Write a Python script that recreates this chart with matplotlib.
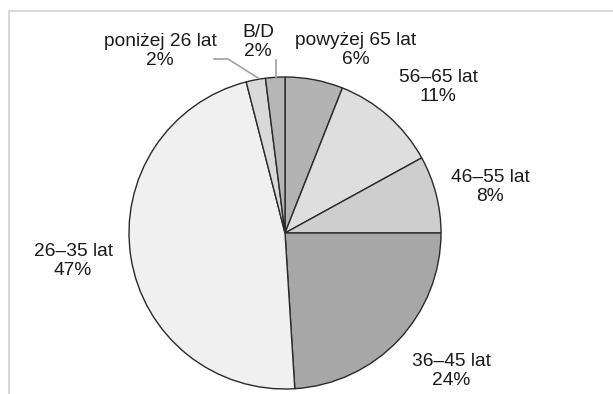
import matplotlib
matplotlib.use("Agg")
import matplotlib.pyplot as plt
from matplotlib.lines import Line2D

plt.rcParams['font.family'] = ['Liberation Sans', 'DejaVu Sans']

grupy = ["powyżej 65 lat", "56–65 lat", "46–55 lat", "36–45 lat",
         "26–35 lat", "poniżej 26 lat", "B/D"]
udzialy = [6, 11, 8, 24, 47, 2, 2]
kolory = ["#b3b3b3", "#dedede", "#cecece", "#a7a7a7",
          "#f0f0f0", "#d9d9d9", "#b6b6b6"]

# pozycje etykiet w pikselach (srodek tekstu)
etykiety_px = [(356, 50), (438, 87), (490, 187), (451, 371),
               (73, 261), (160, 51), (258, 42)]

W, H = 613, 394
cx, cy, r = 285, 233, 156

fig = plt.figure(figsize=(W / 100, H / 100), dpi=100)
ax = fig.add_axes([(cx - r) / W, (H - cy - r) / H, 2 * r / W, 2 * r / H])

ax.pie(udzialy, colors=kolory, startangle=90, counterclock=False,
       wedgeprops=dict(edgecolor="#2a2a2a", linewidth=1.0))
ax.set_xlim(-1, 1)
ax.set_ylim(-1, 1)

def do_danych(px, py):
    return (px - cx) / r, (cy - py) / r

for nazwa, wart, (px, py) in zip(grupy, udzialy, etykiety_px):
    x, y = do_danych(px, py)
    ax.text(x, y, f"{nazwa}\n{wart}%", ha="center", va="center",
            fontsize=13.8, color="#1a1a1a", linespacing=1.12, clip_on=False)

# linie odniesienia dla malych wycinkow
x0, y0 = do_danych(214, 59)
x1, y1 = do_danych(228, 59)
x2, y2 = do_danych(258, 78)
ax.plot([x0, x1, x2], [y0, y1, y2], color="#a0a0a0", lw=1.2, clip_on=False)
x3, y3 = do_danych(276, 60)
x4, y4 = do_danych(276, 78)
ax.plot([x3, x4], [y3, y4], color="#a0a0a0", lw=1.2, clip_on=False)

# ramka
fig.add_artist(Line2D([9 / W, 1], [1 - 11 / H, 1 - 11 / H], color="#d9d9d9", lw=1.5))
fig.add_artist(Line2D([9 / W, 9 / W], [0, 1 - 11 / H], color="#d9d9d9", lw=1.5))

fig.savefig("out.png", dpi=100, facecolor="white")
